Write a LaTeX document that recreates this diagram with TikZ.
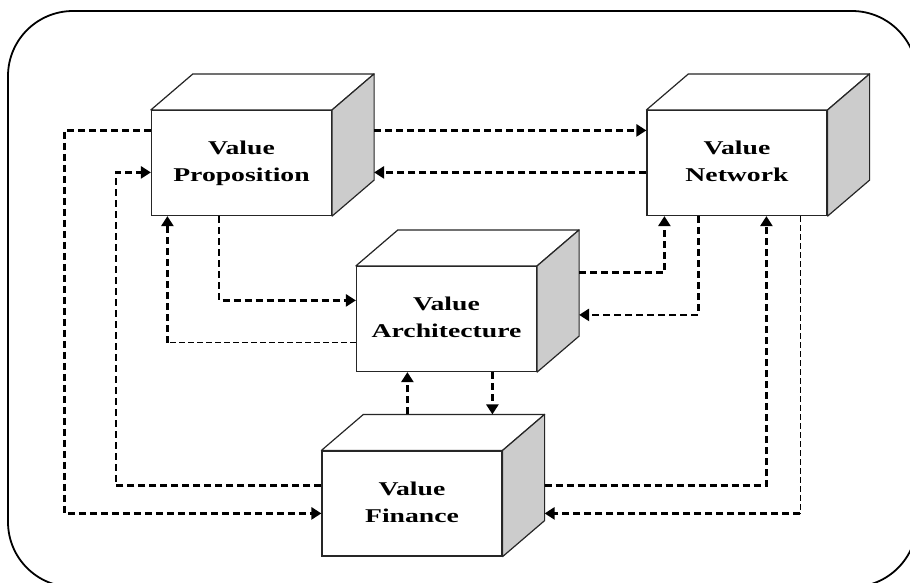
\documentclass[tikz,border=0pt]{standalone}
\usepackage{fontspec}
\setmainfont{Liberation Serif}
\usetikzlibrary{arrows.meta,calc}

% two-line label, widened horizontally
\newcommand\cubetext[2]{\raisebox{-2pt}{\scalebox{1.42}[1]{\begin{tabular}{@{}c@{}}#1\\#2\end{tabular}}}}

\begin{document}
\begin{tikzpicture}[x=1pt,y=-1pt,
  cube/.style={draw=black!85, line width=1.2pt, fill=white,
    minimum width=180pt, minimum height=105pt, inner sep=0pt,
    font=\fontsize{19.5}{27}\selectfont\bfseries},
  face/.style={draw=black!85, line width=1.2pt, line join=round},
  flow/.style={line width=2.6pt, dash pattern=on 7pt off 4pt,
    -{Triangle[length=10pt,width=12pt]}},
  thinflow/.style={line width=1pt, dash pattern=on 6pt off 3pt}
]
\useasboundingbox (0,0) rectangle (910,582);
\clip (0,0) rectangle (910,582);
\fill[white] (0,0) rectangle (910,582);

% outer frame
\draw[line width=1.8pt, rounded corners=65pt] (8,11) rectangle (917,587);

% front faces
\node[cube] (prop) at (241.5,163) {\cubetext{Value}{Proposition}};
\node[cube] (net)  at (737,163)   {\cubetext{Value}{Network}};
\node[cube] (arch) at (446.5,319) {\cubetext{Value}{Architecture}};
\node[cube] (fin)  at (412,503.5) {\cubetext{Value}{Finance}};

% top and side faces of each block
\foreach \n in {prop,net,arch,fin}{
  \draw[face, fill=white] (\n.north west) -- ++(42,-36)
     -- ($(\n.north east)+(42,-36)$) -- (\n.north east) -- cycle;
  \draw[face, fill=black!20] (\n.north east) -- ++(42,-36)
     -- ($(\n.south east)+(42,-36)$) -- (\n.south east) -- cycle;
}

% proposition <-> network
\draw[flow] ($(prop.north east)+(42,20.5)$) -- ($(net.north west)+(0,20.5)$);
\draw[flow] ($(net.north west)+(0,62.5)$) -- ($(prop.north east)+(42,62.5)$);

% proposition <-> architecture
\draw[flow] ($(prop.south west)+(68,0)$) |- ($(arch.north west)+(0,34.5)$);
\coordinate (c4) at ($(prop.south west)+(16.5,0)$);
\coordinate (a4) at ($(arch.north west)+(0,77)$);
\draw[thinflow] (a4) -- (c4 |- a4);
\draw[flow] (c4 |- a4) -- (c4);

% architecture <-> network
\draw[flow] ($(arch.north east)+(42,6.5)$) -| ($(net.south west)+(18,0)$);
\draw[flow] ($(net.south west)+(52,0)$) |- ($(arch.north east)+(42,49)$);

% architecture <-> finance
\coordinate (f7) at ($(fin.north west)+(86,-36)$);
\draw[flow] (f7) -- (f7 |- arch.south);
\coordinate (a8) at ($(arch.south west)+(136.5,0)$);
\coordinate (ftop) at ($(fin.north)+(0,-36)$);
\draw[flow] (a8) -- (a8 |- ftop);

% finance <-> proposition
\draw[flow] ($(fin.north west)+(0,35)$) -| ($(prop.north west)+(-35,62.5)$)
   -- ($(prop.north west)+(0,62.5)$);
\draw[flow] ($(prop.north west)+(0,20.5)$) -| ($(fin.north west)+(-257,63)$)
   -- ($(fin.north west)+(0,63)$);

% finance <-> network
\draw[flow] ($(fin.north east)+(42,35)$) -| ($(net.south west)+(120,0)$);
\coordinate (n12) at ($(net.south west)+(154,0)$);
\coordinate (f12) at ($(fin.north east)+(42,63)$);
\draw[thinflow] (n12) -- (n12 |- f12);
\draw[flow] (n12 |- f12) -- (f12);
\end{tikzpicture}
\end{document}
